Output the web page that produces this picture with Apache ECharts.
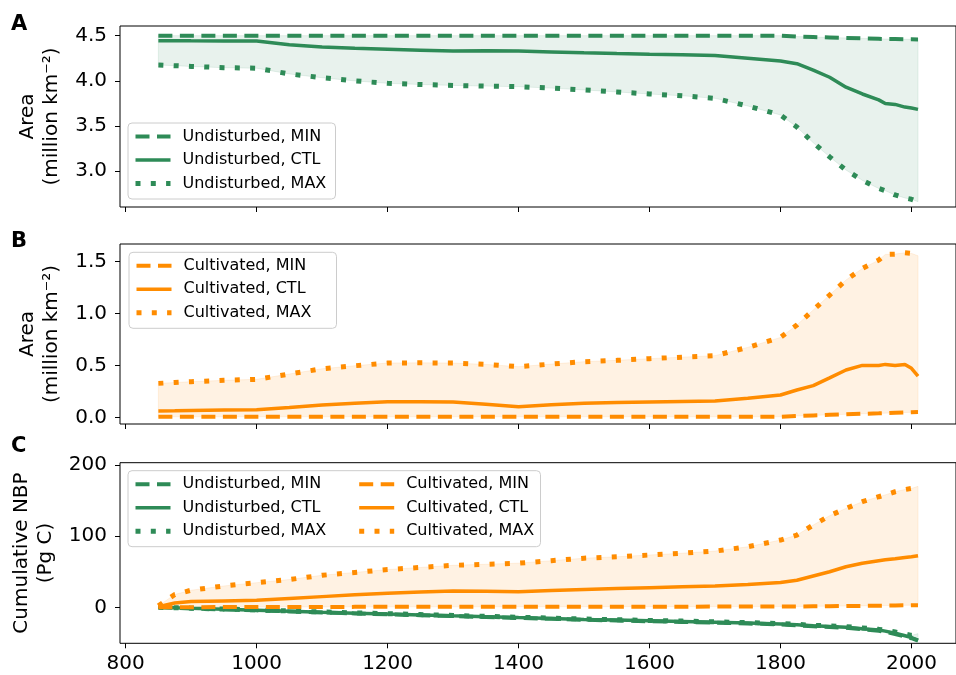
<!DOCTYPE html>
<html>
<head>
<meta charset="utf-8">
<script src="https://cdn.jsdelivr.net/npm/echarts@6.0.0/dist/echarts.min.js"></script>
<style>html,body{margin:0;padding:0;background:#fff}#chart{width:956px;height:675px}</style>
</head>
<body>
<div id="chart"></div>
<script>
const years = [850,875,900,950,1000,1050,1100,1150,1200,1250,1300,1350,1400,1450,1500,1550,1600,1650,1700,1750,1800,1825,1850,1875,1900,1925,1950,1960,1975,1990,2000,2010];

// Panel A: undisturbed area (million km^-2)
const undMinA = [4.5,4.5,4.5,4.5,4.5,4.5,4.5,4.5,4.5,4.5,4.5,4.5,4.5,4.5,4.5,4.5,4.5,4.5,4.5,4.5,4.5,4.49,4.485,4.48,4.475,4.47,4.465,4.463,4.462,4.46,4.46,4.458];
const undCtlA = [4.445,4.444,4.443,4.442,4.44,4.40,4.375,4.36,4.35,4.34,4.33,4.332,4.33,4.32,4.31,4.302,4.295,4.29,4.28,4.25,4.22,4.19,4.12,4.04,3.93,3.855,3.79,3.75,3.74,3.71,3.70,3.685];
const undMaxA = [4.176,4.168,4.16,4.146,4.14,4.077,4.035,4.0,3.973,3.96,3.95,3.942,3.936,3.92,3.90,3.878,3.855,3.835,3.807,3.722,3.623,3.49,3.316,3.16,3.014,2.90,2.81,2.785,2.738,2.705,2.69,2.664];

// Panel B: cultivated area (million km^-2)
const cultMinB = [0.005,0.005,0.005,0.005,0.005,0.005,0.005,0.005,0.005,0.005,0.005,0.005,0.005,0.005,0.005,0.005,0.005,0.005,0.005,0.005,0.005,0.012,0.018,0.024,0.029,0.034,0.038,0.04,0.043,0.046,0.048,0.05];
const cultCtlB = [0.06,0.062,0.065,0.07,0.073,0.095,0.118,0.135,0.15,0.15,0.147,0.125,0.102,0.12,0.135,0.142,0.147,0.152,0.157,0.183,0.215,0.263,0.305,0.38,0.456,0.50,0.50,0.51,0.50,0.51,0.472,0.398];
const cultMaxB = [0.327,0.335,0.343,0.356,0.366,0.417,0.468,0.497,0.523,0.525,0.523,0.51,0.488,0.513,0.536,0.549,0.565,0.58,0.594,0.674,0.77,0.889,1.034,1.178,1.323,1.435,1.515,1.57,1.573,1.586,1.58,1.557];

// Panel C: cumulative NBP (Pg C)
const undMinC = [0,-0.9,-1.7,-3,-4.3,-5.8,-7.3,-8.6,-9.9,-11.1,-12.4,-13.6,-15,-16.2,-17.5,-18.5,-19.6,-20.6,-21.6,-22.8,-24.1,-25.3,-26.6,-27.7,-28.8,-30.8,-33,-34.5,-37.5,-41,-43.5,-47];
const undCtlC = [0,-0.8,-1.5,-2.8,-4,-5.5,-7,-8.2,-9.5,-10.7,-12,-13.2,-14.5,-15.7,-17,-18,-19,-20,-21,-22.2,-23.5,-24.7,-26,-27,-28,-30,-32,-33.5,-36.5,-40,-42.5,-46];
const undMaxC = [0,-0.6,-1.2,-2.5,-3.6,-5.1,-6.6,-7.8,-9,-10.2,-11.5,-12.7,-14,-15.2,-16.5,-17.5,-18.5,-19.4,-20.4,-21.6,-22.8,-24,-25.3,-26.2,-27.2,-29,-31,-32.3,-34.8,-37.5,-39.5,-37];
const cultMinC = [0,0.1,0.2,0.3,0.4,0.5,0.5,0.6,0.6,0.7,0.7,0.7,0.8,0.8,0.8,0.9,0.9,0.9,1,1,1,1.2,1.4,1.6,1.8,2,2.2,2.4,2.6,2.8,3,3];
const cultCtlC = [1,6,8,9,10,12.5,15,17.5,19.7,21.5,23,22.5,22,23.5,25,26.3,27.6,28.8,30,32,35,38,44,50,57,62,65.5,66.7,68.3,70,71,72.5];
const cultMaxC = [2,18,24,30,34.6,39,45,49,53,56,59,60.5,62,65.5,69,71,73.5,76,79,85,94.5,101.5,115.6,128.7,139,148.4,155.4,158,162.4,165.5,167,170];

const xTicks = [800,1000,1200,1400,1600,1800,2000];
const yTicksA = [3.0,3.5,4.0,4.5];
const yTicksB = [0.0,0.5,1.0,1.5];
const yTicksC = [0,100,200];

const GREEN = '#2e8b57';
const ORANGE = '#ff8c00';
const GREEN_FILL = 'rgba(46,139,87,0.11)';
const ORANGE_FILL = 'rgba(255,140,0,0.11)';
const FONT = 'DejaVu Sans';

const pair = arr => years.map((y, i) => [y, arr[i]]);

const kinds = {
  MIN: {type: [14, 7.5], width: 4},
  CTL: {type: 'solid', width: 3.5},
  MAX: {type: [5, 10.3], width: 5}
};

function line(name, arr, color, kind, ax) {
  return {
    type: 'line', name: name, data: pair(arr), xAxisIndex: ax, yAxisIndex: ax,
    symbol: 'none', showSymbol: false, silent: true, z: 3,
    lineStyle: {color: color, width: kinds[kind].width, type: kinds[kind].type, cap: 'butt'},
    itemStyle: {color: color}
  };
}
function band(lo, hi, fill, ax) {
  return {
    type: 'custom', xAxisIndex: ax, yAxisIndex: ax, silent: true, z: 1, clip: true,
    data: years.map((y, i) => [y, lo[i], hi[i]]),
    encode: {x: 0, y: [1, 2]},
    renderItem: function (params, api) {
      if (params.dataIndex !== 0) return null;
      const top = years.map((y, i) => api.coord([y, hi[i]]));
      const bot = years.map((y, i) => api.coord([y, lo[i]])).reverse();
      return {type: 'polygon', shape: {points: top.concat(bot)},
              style: {fill: fill, stroke: fill, lineWidth: 1}};
    }
  };
}

const gridLeft = 120, gridWidth = 847.4;
const grids = [
  {left: gridLeft, width: gridWidth, top: 26, height: 181},
  {left: gridLeft, width: gridWidth, top: 244, height: 180},
  {left: gridLeft, width: gridWidth, top: 462.7, height: 180.6}
].map(g => Object.assign(g, {show: true, borderColor: '#000', borderWidth: 1, backgroundColor: 'transparent'}));

function xAxis(i) {
  return {
    type: 'value', gridIndex: i, min: 791.4, max: 2068,
    axisLine: {show: false, onZero: false},
    splitLine: {show: false},
    axisTick: {show: true, customValues: xTicks, length: 5, lineStyle: {color: '#000', width: 1}},
    axisLabel: {show: i === 2, customValues: xTicks, fontSize: 20, color: '#000', fontFamily: FONT, margin: 10,
                formatter: v => String(Math.round(v))}
  };
}
function yAxis(i, min, max, ticks, fmt, name, gap) {
  return {
    type: 'value', gridIndex: i, min: min, max: max,
    axisLine: {show: false, onZero: false},
    splitLine: {show: false},
    axisTick: {show: true, customValues: ticks, length: 5, lineStyle: {color: '#000', width: 1}},
    axisLabel: {customValues: ticks, fontSize: 20, color: '#000', fontFamily: FONT, margin: 13, formatter: fmt},
    name: name, nameLocation: 'middle', nameRotate: 90, nameGap: gap,
    nameTextStyle: {fontSize: 20, color: '#000', fontFamily: FONT, lineHeight: 24}
  };
}

const legendBase = {
  orient: 'vertical', itemWidth: 35, itemHeight: 10, itemGap: 6.5,
  padding: [5, 8, 7, 5], selectedMode: false,
  backgroundColor: 'rgba(255,255,255,0.8)', borderColor: '#cccccc', borderWidth: 1, borderRadius: 4,
  lineStyle: {width: 'inherit', type: 'inherit'},
  itemStyle: {opacity: 0},
  textStyle: {fontSize: 16, lineHeight: 17, color: '#000', fontFamily: FONT, padding: [0, 0, 0, 7], width: 145}
};

const option = {
  animation: false,
  textStyle: {fontFamily: FONT},
  grid: grids,
  xAxis: [xAxis(0), xAxis(1), xAxis(2)],
  yAxis: [
    yAxis(0, 2.605, 4.607, yTicksA, v => v.toFixed(1), 'Area\n(million km\u207B\u00B2)', 55.5),
    yAxis(1, -0.0646, 1.6706, yTicksB, v => v.toFixed(1), 'Area\n(million km\u207B\u00B2)', 55.5),
    yAxis(2, -50.6, 203.23, yTicksC, v => String(Math.round(v)), 'Cumulative NBP\n(Pg C)', 59.7)
  ],
  legend: [
    Object.assign({}, legendBase, {left: 128, top: 123, data: ['Undisturbed, MIN', 'Undisturbed, CTL', 'Undisturbed, MAX']}),
    Object.assign({}, legendBase, {left: 129, top: 252.3, data: ['Cultivated, MIN', 'Cultivated, CTL', 'Cultivated, MAX']}),
    Object.assign({}, legendBase, {left: 128, top: 470.7, padding: [5, 213, 7, 5], data: ['Undisturbed, MIN', 'Undisturbed, CTL', 'Undisturbed, MAX']}),
    Object.assign({}, legendBase, {left: 351.7, top: 470.7, z: 6, backgroundColor: 'transparent', borderWidth: 0, data: ['Cultivated, MIN', 'Cultivated, CTL', 'Cultivated, MAX']})
  ],
  graphic: [
    {type: 'text', left: 11, top: 14, style: {text: 'A', font: 'bold 21px "DejaVu Sans"', fill: '#000'}},
    {type: 'text', left: 11, top: 231, style: {text: 'B', font: 'bold 21px "DejaVu Sans"', fill: '#000'}},
    {type: 'text', left: 11, top: 436, style: {text: 'C', font: 'bold 21px "DejaVu Sans"', fill: '#000'}}
  ],
  series: [
    band(undMaxA, undMinA, GREEN_FILL, 0),
    line('Undisturbed, MIN', undMinA, GREEN, 'MIN', 0),
    line('Undisturbed, CTL', undCtlA, GREEN, 'CTL', 0),
    line('Undisturbed, MAX', undMaxA, GREEN, 'MAX', 0),

    band(cultMinB, cultMaxB, ORANGE_FILL, 1),
    line('Cultivated, MIN', cultMinB, ORANGE, 'MIN', 1),
    line('Cultivated, CTL', cultCtlB, ORANGE, 'CTL', 1),
    line('Cultivated, MAX', cultMaxB, ORANGE, 'MAX', 1),

    band(undMinC, undMaxC, GREEN_FILL, 2),
    band(cultMinC, cultMaxC, ORANGE_FILL, 2),
    line('Undisturbed, MIN', undMinC, GREEN, 'MIN', 2),
    line('Undisturbed, CTL', undCtlC, GREEN, 'CTL', 2),
    line('Undisturbed, MAX', undMaxC, GREEN, 'MAX', 2),
    line('Cultivated, MIN', cultMinC, ORANGE, 'MIN', 2),
    line('Cultivated, CTL', cultCtlC, ORANGE, 'CTL', 2),
    line('Cultivated, MAX', cultMaxC, ORANGE, 'MAX', 2)
  ]
};

const chart = echarts.init(document.getElementById('chart'), null, {renderer: 'canvas'});
chart.setOption(option);
</script>
</body>
</html>
